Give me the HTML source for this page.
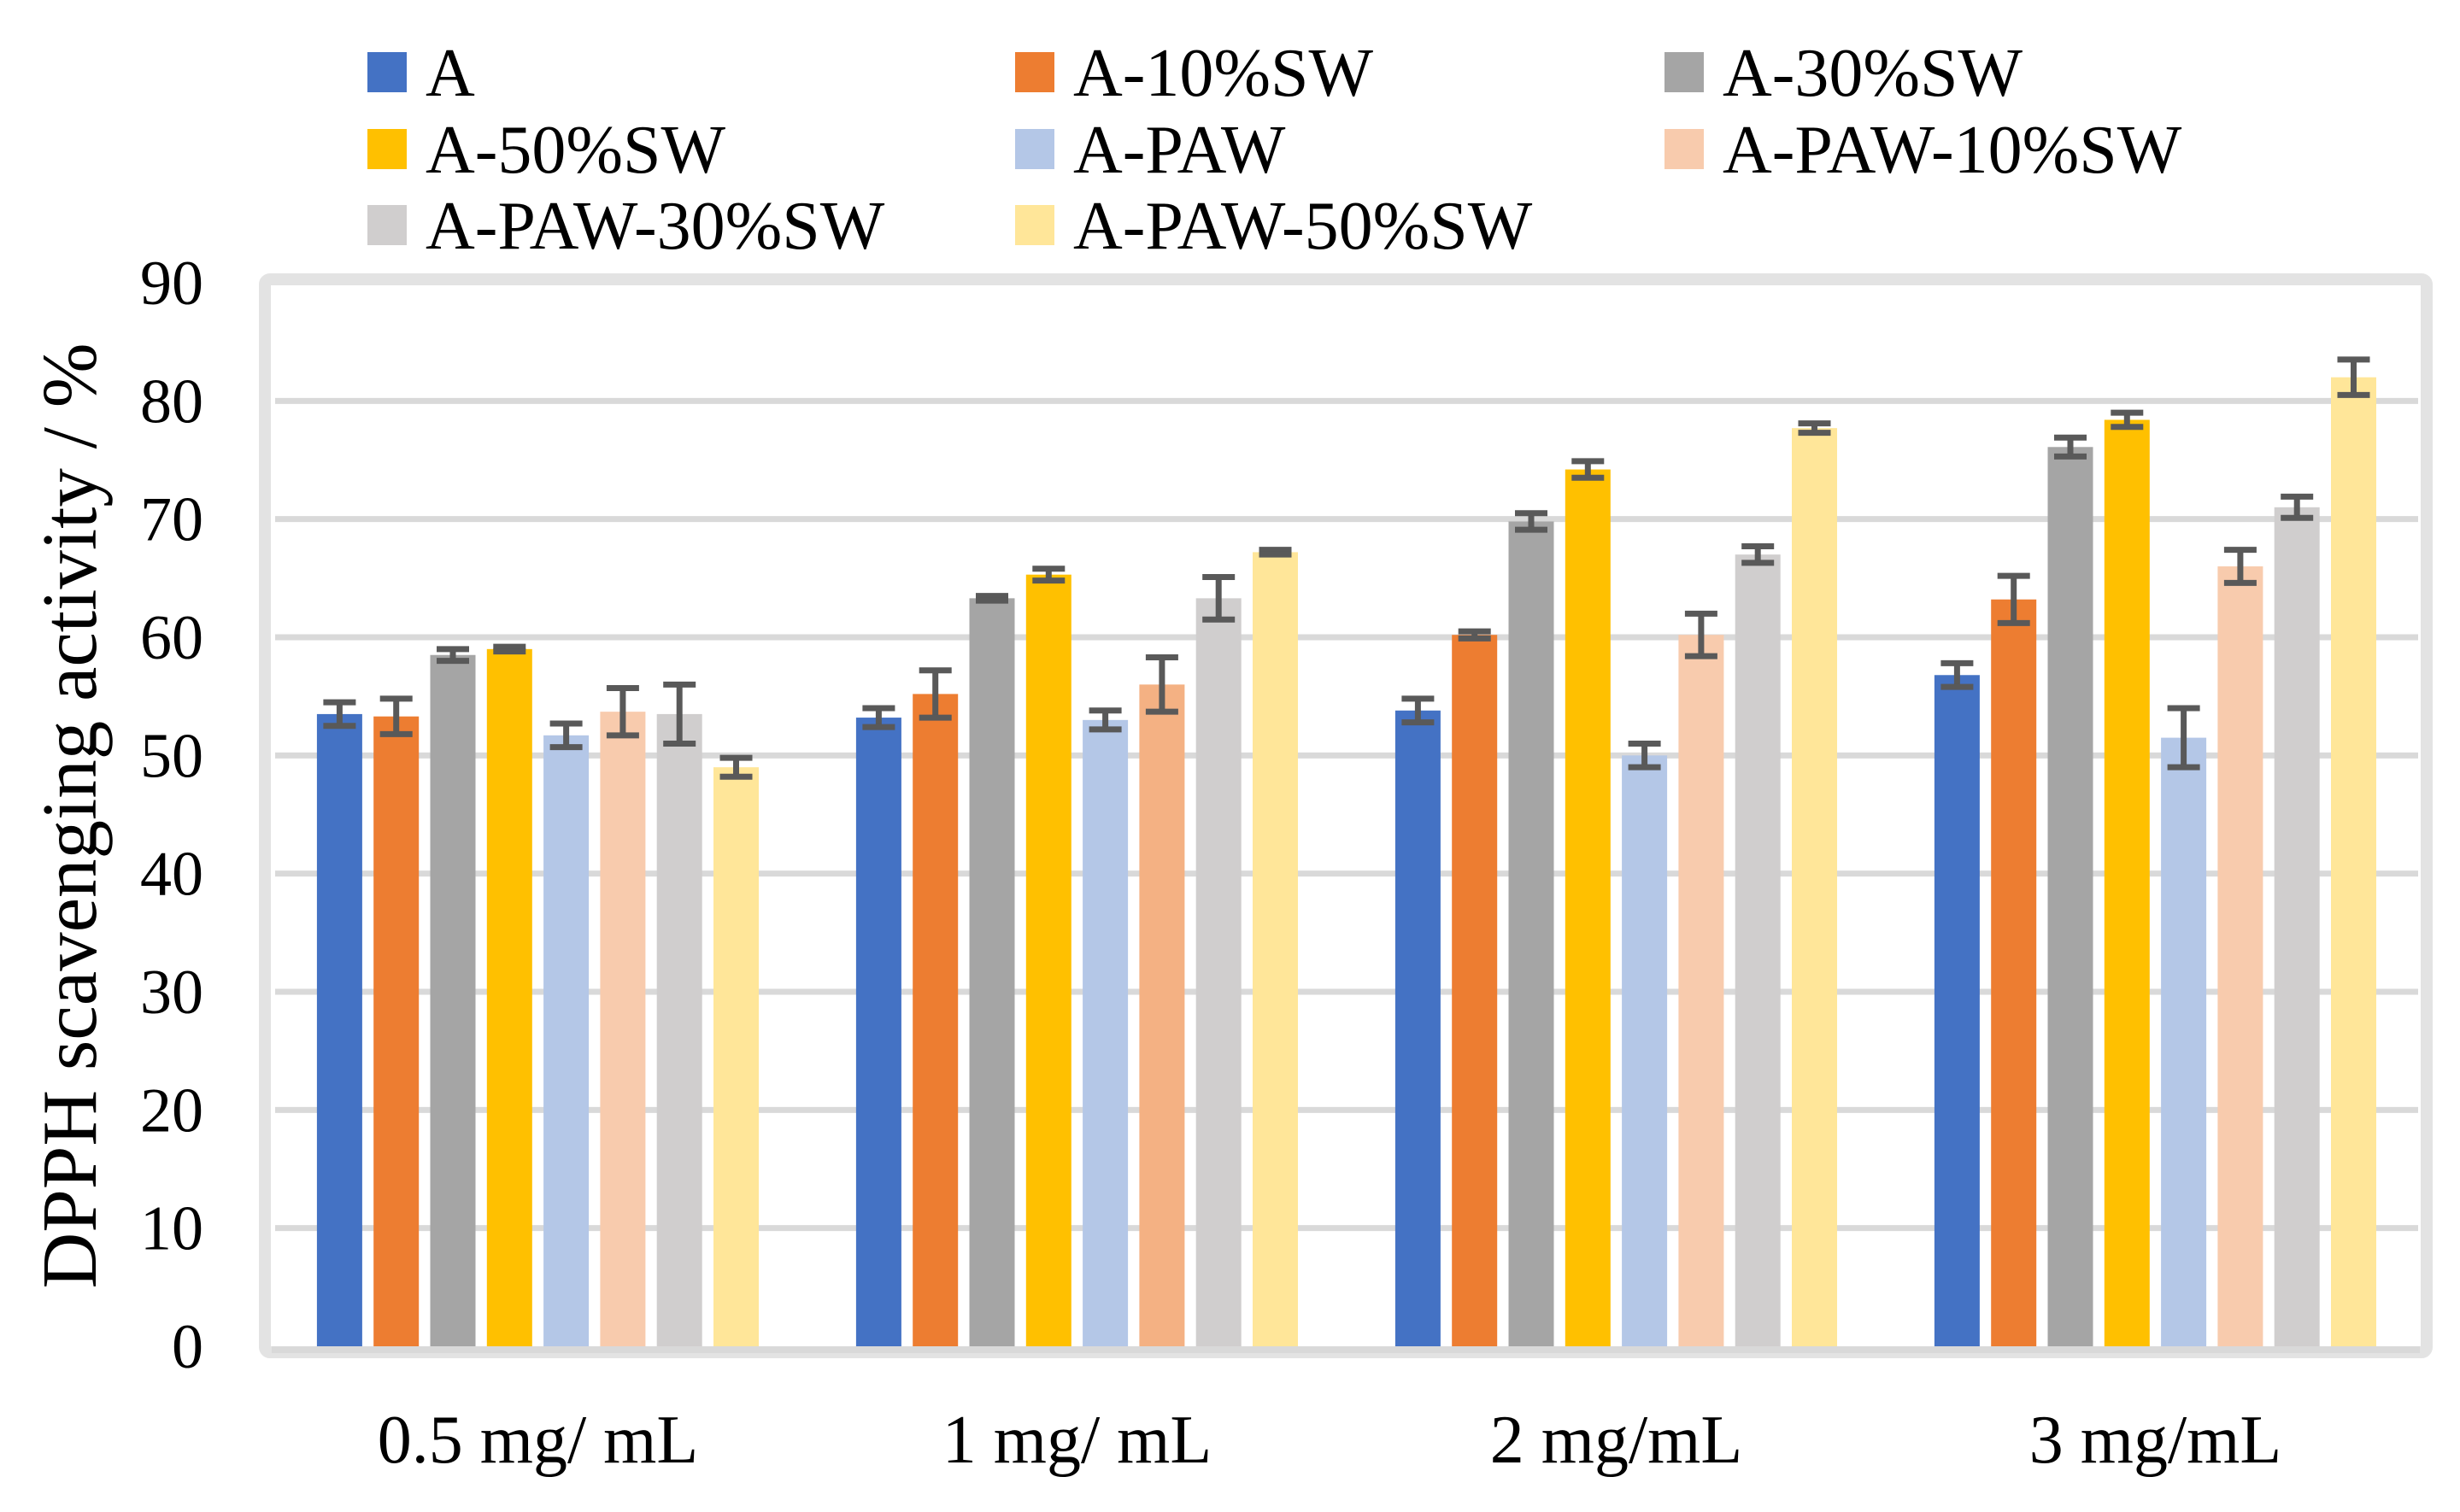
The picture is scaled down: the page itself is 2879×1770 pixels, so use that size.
<!DOCTYPE html>
<html><head><meta charset="utf-8"><style>
html,body{margin:0;padding:0;background:#fff;}
svg{display:block;}
text{font-family:"Liberation Serif",serif;fill:#000;}
</style></head><body>
<svg id="chart" width="2879" height="1770" viewBox="0 0 2879 1770" xmlns="http://www.w3.org/2000/svg">
<rect x="0" y="0" width="2879" height="1770" fill="#fff"/>
<rect x="310" y="327" width="2530" height="1256" fill="none" stroke="#e3e3e3" stroke-width="14" rx="6"/>
<g id="grid"></g>
<g id="bars"></g>
<g id="yticks"></g>
<g id="xticks"></g>
<text x="0" y="0" transform="translate(112,955) rotate(-90)" text-anchor="middle" font-size="91">DPPH scavenging activity / %</text>
<g id="legend"></g>
</svg>
<script>
const categories = ["0.5 mg/ mL", "1 mg/ mL", "2 mg/mL", "3 mg/mL"];
const seriesNames = ["A","A-10%SW","A-30%SW","A-50%SW","A-PAW","A-PAW-10%SW","A-PAW-30%SW","A-PAW-50%SW"];
const seriesColors = ["#4472c4","#ed7d31","#a5a5a5","#ffc000","#b4c7e7","#f8cbad","#d0cece","#ffe699"];
const valA      = [53.5, 53.2, 53.8, 56.8];
const valA10    = [53.3, 55.2, 60.2, 63.2];
const valA30    = [58.5, 63.3, 69.8, 76.1];
const valA50    = [59.0, 65.3, 74.2, 78.4];
const valPAW    = [51.7, 53.0, 50.0, 51.5];
const valPAW10  = [53.7, 56.0, 60.2, 66.0];
const valPAW30  = [53.5, 63.3, 67.0, 71.0];
const valPAW50  = [49.0, 67.2, 77.7, 82.0];
const errA      = [1.0, 0.8, 1.0, 1.0];
const errA10    = [1.5, 2.0, 0.3, 2.0];
const errA30    = [0.5, 0.2, 0.7, 0.8];
const errA50    = [0.2, 0.5, 0.7, 0.6];
const errPAW    = [1.0, 0.8, 1.0, 2.5];
const errPAW10  = [2.0, 2.3, 1.8, 1.4];
const errPAW30  = [2.5, 1.8, 0.7, 0.9];
const errPAW50  = [0.8, 0.2, 0.4, 1.5];
const yTicks = [0,10,20,30,40,50,60,70,80,90];

const values = [valA,valA10,valA30,valA50,valPAW,valPAW10,valPAW30,valPAW50];
const errors = [errA,errA10,errA30,errA50,errPAW,errPAW10,errPAW30,errPAW50];
const NS = "http://www.w3.org/2000/svg";
const plotL = 314, band = 631, y0 = 1576, y90 = 331;
const yScale = v => y0 - (v/90)*(y0-y90);
const groupCenter = g => plotL + band*(g+0.5);
const barX = (g,i) => groupCenter(g) - 4*66.3 + 6.6 + i*66.3;
const barW = 53;
function mk(tag, attrs, parent){const e=document.createElementNS(NS,tag);for(const k in attrs)e.setAttribute(k,attrs[k]);parent.appendChild(e);return e;}

const grid=document.getElementById('grid');
yTicks.forEach(t=>{
  if(t===0||t===90) return;
  const l=mk('line',{x1:322,x2:2830,y1:yScale(t),y2:yScale(t),stroke:'#d9d9d9','stroke-width':7},grid);
  
  
});
const yt=document.getElementById('yticks');
yTicks.forEach(t=>{
  const tx=mk('text',{x:238,y:yScale(t)+25,'text-anchor':'end','font-size':74},yt);
  tx.textContent=t;
  
  
});
const bars=document.getElementById('bars');
categories.forEach((c,g)=>{
  values.forEach((arr,i)=>{
    const v=arr[g], x=barX(g,i), y=yScale(v);
    let col=seriesColors[i];
    if(g===1&&i===5) col="#f4b183";
    const r=mk('rect',{x:x,y:y,width:barW,height:y0-y,fill:col},bars);
    
    
  });
});
const axis=mk('line',{x1:318,x2:2832,y1:y0+4,y2:y0+4,stroke:'#d9d9d9','stroke-width':8},bars);


categories.forEach((c,g)=>{
  values.forEach((arr,i)=>{
    const v=arr[g], e=errors[i][g], cx=barX(g,i)+barW/2;
    const yt1=yScale(v+e), yb=yScale(v-e);
    const eg=mk('g',{stroke:'#595959'},bars);
    
    
    mk('line',{x1:cx,x2:cx,y1:yt1,y2:yb,'stroke-width':7},eg);
    mk('line',{x1:cx-19,x2:cx+19,y1:yt1,y2:yt1,'stroke-width':7},eg);
    mk('line',{x1:cx-19,x2:cx+19,y1:yb,y2:yb,'stroke-width':7},eg);
  });
});
const xt=document.getElementById('xticks');
categories.forEach((c,g)=>{
  const tx=mk('text',{x:groupCenter(g),y:1712,'text-anchor':'middle','font-size':80},xt);
  tx.textContent=c;
  
  
});
const lg=document.getElementById('legend');
const legX=[430,1188,1948], legY=[84,174,263];
seriesNames.forEach((n,i)=>{
  const col=i%3,row=Math.floor(i/3);
  const ge=mk('g',{},lg);
  
  
  mk('rect',{x:legX[col],y:legY[row]-23,width:46,height:47,fill:seriesColors[i]},ge);
  const t=mk('text',{x:legX[col]+68,y:legY[row]+28,'font-size':80},ge);
  t.textContent=n;
});
</script>
</body></html>
